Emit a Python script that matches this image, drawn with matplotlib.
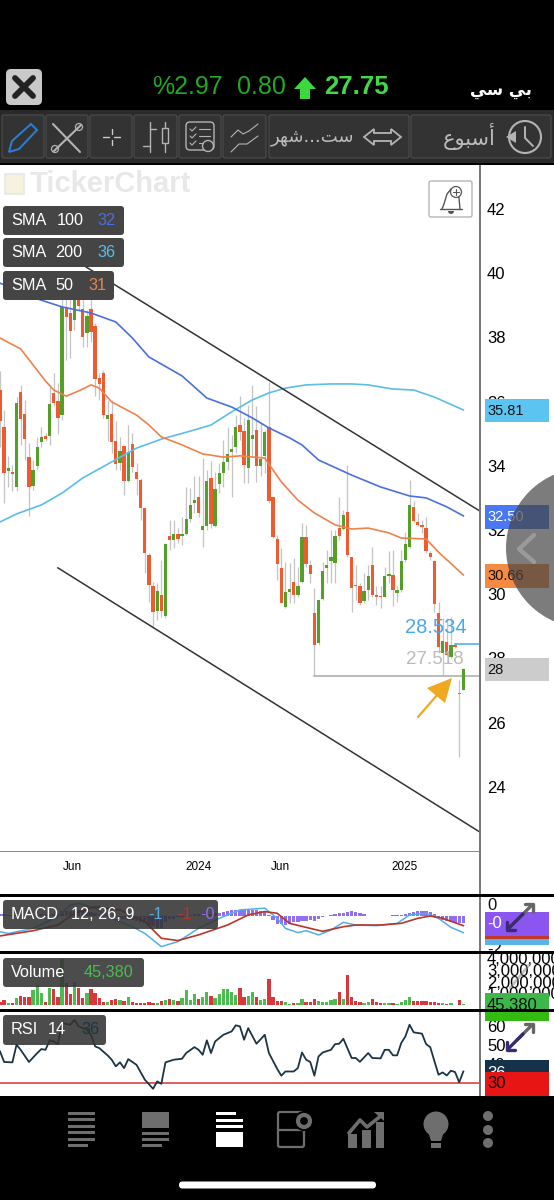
import matplotlib
matplotlib.use("Agg")
import matplotlib.pyplot as plt
from matplotlib.patches import Rectangle, FancyBboxPatch, Circle, Polygon, Wedge

plt.rcParams["font.family"] = ["Liberation Sans", "DejaVu Sans"]

W, H = 554, 1200

# weekly candles, prices
candle_open = [
    36.36, 35.22, 33.84, 33.82, 33.33, 36.31, 35.62, 34.27, 33.37, 33.98,
    34.73, 34.93, 34.94, 36.28, 36.02, 35.59, 38.91, 38.77, 38.55, 39.48,
    38.88, 38.13, 38.88, 38.34, 36.73, 36.88, 35.45, 35.62, 34.78, 34.09,
    34.62, 33.54, 34.68, 33.82, 33.56, 32.67, 31.22, 30.27, 29.48, 29.97,
    29.33, 31.82, 31.68, 31.87, 31.82, 31.89, 32.34, 32.84, 33.02, 32.00,
    32.13, 33.62, 32.13, 33.43, 33.79, 34.13, 34.44, 34.58, 35.27, 35.08,
    33.92, 34.84, 35.12, 33.98, 34.29, 35.22, 33.02, 31.71, 30.83, 29.59,
    30.08, 30.38, 29.96, 30.38, 31.77, 30.92, 29.41, 28.47, 29.84, 30.83,
    31.03, 30.98, 32.06, 32.04, 32.57, 31.17, 30.29, 30.27, 29.78, 30.13,
    30.91, 29.96, 29.94, 29.92, 30.58, 30.61, 30.05, 30.13, 31.07, 31.48,
    32.73, 32.26, 32.15, 32.06, 31.27, 31.03, 29.40, 28.16, 28.51, 28.03,
    28.41, 26.92, 27.02]
candle_close = [
    35.38, 33.79, 33.92, 33.74, 35.97, 35.45, 34.84, 33.35, 33.87, 34.57,
    34.91, 34.84, 35.93, 35.95, 35.48, 38.96, 38.65, 38.20, 39.95, 38.99,
    38.00, 38.67, 38.18, 36.70, 36.54, 35.59, 35.57, 34.73, 34.06, 34.46,
    33.54, 34.42, 33.95, 33.58, 32.68, 31.28, 30.29, 29.46, 30.11, 29.48,
    31.57, 31.68, 31.87, 31.73, 31.88, 32.34, 32.77, 32.92, 32.54, 32.13,
    33.52, 32.19, 33.27, 33.77, 34.12, 34.37, 34.52, 35.22, 35.04, 34.04,
    35.43, 34.97, 33.98, 34.22, 35.04, 32.89, 31.77, 30.93, 29.74, 30.06,
    30.16, 29.96, 30.26, 31.77, 30.93, 30.63, 28.42, 29.82, 30.71, 30.92,
    31.17, 31.82, 31.82, 32.48, 31.22, 30.18, 30.24, 29.74, 30.11, 30.57,
    29.98, 29.92, 29.90, 30.57, 30.63, 30.13, 30.13, 31.03, 31.56, 32.77,
    32.28, 32.14, 32.10, 31.33, 31.17, 29.68, 28.34, 28.55, 28.11, 28.41,
    28.35, 26.88, 27.66]
candle_high = [
    36.94, 35.74, 34.29, 34.03, 36.14, 36.52, 36.05, 34.70, 34.18, 34.91,
    35.22, 35.01, 36.47, 36.90, 36.57, 39.48, 39.48, 39.27, 40.00, 39.69,
    39.27, 38.86, 39.48, 38.44, 36.88, 36.99, 36.05, 36.05, 35.38, 34.91,
    34.65, 35.27, 35.01, 34.08, 33.61, 32.68, 31.28, 30.39, 30.34, 31.07,
    31.59, 32.31, 32.31, 32.06, 32.42, 33.35, 33.30, 33.67, 33.67, 34.24,
    33.87, 34.16, 33.82, 34.08, 34.81, 35.22, 34.96, 35.59, 36.18, 35.48,
    35.90, 36.52, 35.87, 35.33, 35.12, 36.62, 33.04, 31.85, 31.43, 31.01,
    30.96, 31.12, 30.86, 32.21, 32.16, 31.07, 30.18, 29.82, 31.01, 31.38,
    32.00, 32.00, 33.04, 32.63, 34.03, 31.17, 30.91, 30.34, 30.65, 30.91,
    31.48, 30.24, 30.24, 30.86, 31.33, 31.38, 30.24, 31.38, 31.95, 33.56,
    32.91, 32.52, 32.31, 32.42, 31.33, 31.05, 29.77, 29.25, 29.25, 29.30,
    28.47, 27.33, 27.69]
candle_low = [
    34.60, 32.84, 33.35, 33.20, 33.20, 34.65, 34.18, 32.44, 33.25, 33.87,
    34.60, 34.76, 34.65, 35.85, 35.00, 35.43, 37.30, 37.35, 38.23, 38.86,
    37.71, 37.71, 37.87, 36.16, 36.05, 35.50, 34.76, 34.39, 33.87, 33.87,
    33.09, 33.51, 33.82, 33.09, 32.31, 30.65, 29.77, 28.94, 29.20, 29.30,
    29.25, 31.38, 31.43, 31.59, 31.54, 31.85, 32.26, 32.52, 32.42, 31.48,
    32.00, 32.06, 32.09, 33.15, 33.35, 33.87, 33.04, 34.39, 34.81, 33.46,
    33.46, 34.29, 33.51, 33.67, 33.77, 32.84, 31.74, 30.45, 29.72, 29.56,
    29.72, 29.72, 29.92, 30.34, 30.86, 30.34, 27.48, 28.42, 29.82, 30.34,
    30.34, 30.34, 31.69, 32.00, 31.17, 29.43, 29.82, 29.66, 29.72, 29.82,
    29.92, 29.66, 29.56, 29.90, 30.34, 29.64, 29.77, 30.08, 31.01, 31.43,
    32.26, 32.11, 31.90, 31.27, 31.05, 29.46, 28.16, 27.45, 28.06, 28.00,
    28.31, 24.92, 27.00]

# moving averages: (week index, value) read at the bends of each curve
sma100_x = [0, 9, 15, 22, 28, 32, 36, 44, 50, 56, 61, 65, 70, 73, 77, 85, 92, 99, 103, 108, 112]
sma100_y = [39.69, 39.20, 38.95, 38.76, 38.48, 37.98, 37.39, 36.80, 36.11, 35.83, 35.49,
            35.18, 34.87, 34.65, 34.18, 33.71, 33.34, 33.06, 33.00, 32.72, 32.44]
sma50_x = [0, 5, 8, 11, 13, 16, 19, 22, 24, 27, 33, 36, 39, 44, 49, 54, 58, 64, 68, 72,
           76, 81, 85, 89, 94, 97, 103, 106, 112]
sma50_y = [37.98, 37.64, 37.14, 36.64, 36.36, 36.17, 36.33, 36.52, 36.42, 35.99, 35.58,
           35.27, 34.90, 34.65, 34.37, 34.27, 34.31, 34.24, 33.50, 32.93, 32.53, 32.16,
           32.03, 32.06, 31.91, 31.75, 31.72, 31.31, 30.60]
sma200_x = [0, 4, 10, 15, 20, 27, 33, 39, 46, 51, 56, 61, 65, 69, 74, 80, 85, 89, 95, 100, 105, 112]
sma200_y = [32.25, 32.50, 32.78, 33.15, 33.62, 34.12, 34.55, 34.83, 35.08, 35.27, 35.68,
            36.05, 36.27, 36.42, 36.52, 36.55, 36.55, 36.52, 36.39, 36.36, 36.14, 35.74]

# drawn channel
upper_x = [18.85, 116.0]
upper_y = [40.35, 32.59]
lower_x = [14.0, 116.0]
lower_y = [30.82, 22.59]

# high/low markers
high_level = 28.45
low_level = 27.45
high_text = "28.534"
low_text = "27.518"
high_start = 110
low_start = 76

price_ticks = [24, 26, 28, 30, 32, 34, 36, 38, 40, 42]
date_ticks = [17.6, 47.9, 67.9, 97.9]
date_labels = ["Jun", "2024", "Jun", "2025"]

# MACD panel
macd_x = [0, 2, 8, 14, 17, 19, 23, 27, 32, 35, 39, 43, 48, 53, 58, 64, 67, 69, 72, 74, 77,
          80, 83, 86, 91, 96, 99, 103, 106, 109, 112]
macd_y = [-0.75, -0.83, -0.59, -0.03, 0.52, 0.60, 0.37, -0.11, -0.51, -0.83, -1.46, -1.22,
          -0.59, -0.11, 0.29, 0.37, -0.11, -0.59, -0.79, -0.70, -0.90, -0.67, -0.30, -0.43,
          -0.46, -0.35, 0.05, 0.13, -0.11, -0.54, -0.79]
signal_x = [0, 8, 14, 18, 23, 29, 35, 39, 43, 48, 55, 60, 64, 67, 70, 75, 78, 83, 86, 92, 97,
            101, 104, 107, 112]
signal_y = [-0.95, -0.70, -0.43, 0.13, 0.44, 0.29, -0.27, -1.06, -1.17, -0.90, -0.43, 0.05,
            0.21, 0.13, -0.35, -0.59, -0.73, -0.51, -0.43, -0.43, -0.35, -0.11, 0.00, -0.11, -0.46]
macd_hist = [
    0.08, 0.08, 0.07, 0.05, 0.03, 0.02, 0.03, 0.02, 0.03, 0.05,
    0.08, 0.08, 0.05, 0.08, 0.10, 0.22, 0.25, 0.25, 0.25, 0.28,
    0.28, 0.22, 0.20, 0.16, 0.10, 0.06, 0.02, -0.02, -0.06, -0.10,
    -0.15, -0.20, -0.20, -0.25, -0.30, -0.35, -0.42, -0.48, -0.55, -0.58,
    -0.30, -0.15, -0.12, -0.05, -0.05, 0.00, 0.05, 0.08, 0.10, 0.10,
    0.12, 0.10, 0.12, 0.15, 0.20, 0.25, 0.28, 0.30, 0.30, 0.32,
    0.32, 0.30, 0.28, 0.25, 0.20, 0.05, -0.20, -0.38, -0.38, -0.42,
    -0.40, -0.30, -0.28, -0.25, -0.25, -0.20, -0.22, -0.15, -0.05, 0.00,
    0.03, 0.08, 0.12, 0.16, 0.20, 0.22, 0.18, 0.15, 0.08, 0.02,
    0.02, 0.01, 0.01, 0.00, 0.02, 0.03, 0.05, 0.05, 0.08, 0.12,
    0.20, 0.25, 0.25, 0.25, 0.20, 0.10, -0.10, -0.20, -0.25, -0.30,
    -0.32, -0.35, -0.35]

# volume, millions of shares
volume = [
    0.28, 0.43, 0.20, 0.20, 0.57, 0.77, 0.66, 0.71, 1.28, 1.71,
    1.00, 0.28, 1.42, 1.34, 0.71, 3.90, 1.85, 0.94, 1.99, 1.42,
    0.57, 1.00, 1.34, 1.05, 0.57, 0.28, 0.28, 0.43, 0.48, 0.43,
    0.37, 0.71, 0.28, 0.14, 0.20, 0.20, 0.28, 0.20, 0.20, 0.34,
    0.43, 0.48, 0.43, 0.34, 0.57, 1.28, 0.43, 0.91, 0.48, 0.71,
    1.14, 0.77, 0.57, 0.94, 1.37, 1.37, 1.14, 0.85, 1.42, 0.66,
    0.77, 1.08, 0.66, 0.43, 0.51, 2.19, 0.66, 0.34, 0.34, 0.28,
    0.09, 0.20, 0.20, 0.48, 0.23, 0.28, 0.48, 0.34, 0.28, 0.23,
    0.43, 0.48, 1.11, 0.51, 2.54, 0.66, 0.37, 0.23, 0.17, 0.23,
    0.48, 0.23, 0.20, 0.20, 0.20, 0.20, 0.09, 0.28, 0.43, 0.71,
    0.34, 0.34, 0.34, 0.37, 0.23, 0.23, 0.20, 0.17, 0.11, 0.20,
    0.03, 0.43, 0.045]
volume_ticks = [1, 2, 3, 4]
volume_labels = ["1,000,000", "2,000,000", "3,000,000", "4,000,000"]

# RSI
rsi_x = [0, 1, 3, 4, 5, 7, 9, 10, 11, 12, 13, 14, 15, 17, 18, 19, 21, 22, 23, 24, 26, 27, 28,
         29, 30, 31, 33, 35, 37, 38, 39, 40, 42, 44, 45, 47, 48, 49, 50, 51, 52, 54, 56, 57,
         58, 59, 60, 62, 64, 65, 67, 68, 69, 71, 72, 73, 74, 75, 76, 77, 78, 80, 81, 82, 83,
         85, 86, 87, 89, 90, 92, 93, 94, 95, 96, 97, 98, 99, 100, 102, 103, 104, 106, 107,
         108, 109, 110, 111, 112]
rsi_y = [46.7, 41.1, 40.9, 50.2, 47.5, 41.1, 45.8, 47.9, 47.5, 52.5, 51.9, 50.5, 61.6, 60.7,
         63.3, 59.8, 58.1, 55.4, 49.3, 48.4, 44.6, 42.3, 38.8, 40.9, 37.9, 42.6, 39.6, 31.8,
         27.0, 30.9, 29.6, 40.9, 42.3, 42.8, 45.8, 48.9, 47.5, 44.9, 52.5, 45.8, 51.9, 55.4,
         57.2, 60.4, 59.8, 52.8, 58.9, 50.7, 55.4, 45.8, 37.5, 33.9, 36.1, 36.1, 37.9, 46.1,
         42.3, 41.1, 33.9, 44.0, 46.1, 47.5, 50.5, 50.7, 53.3, 43.2, 43.2, 41.2, 45.8, 43.2,
         43.0, 47.5, 47.5, 44.6, 44.6, 51.1, 54.6, 60.7, 56.7, 56.0, 50.5, 48.9, 34.4, 35.6,
         34.0, 36.5, 35.8, 30.4, 36.1]
rsi_ticks = [40, 50, 60]
rsi_level = 30

RED = "#f05a30"
GREEN = "#559e28"
WICK = "#c4c4c4"
C_SMA100 = "#4a6fe0"
C_SMA200 = "#5bbde8"
C_SMA50 = "#f0814a"
PRICE_BLUE = "#4aa8e8"
BAR_GREY = "#6e6e6e"
ICON = "#b4b4b4"

fig = plt.figure(figsize=(W / 100, H / 100), dpi=100, facecolor="white")


def axes_px(x0, y0, x1, y1):
    """Axes from pixel box, y measured from the top of the image."""
    return fig.add_axes([x0 / W, 1 - y1 / H, (x1 - x0) / W, (y1 - y0) / H])


def setup_panel(ax, ymin, ymax):
    ax.set_xlim(0, 116.03)
    ax.set_ylim(ymin, ymax)
    for side in ax.spines.values():
        side.set_visible(False)
    ax.yaxis.tick_right()
    ax.tick_params(axis="y", length=0, pad=5, labelsize=12)
    ax.tick_params(axis="x", length=0)
    ax.set_xticks([])


weeks = list(range(len(candle_close)))
candle_up = [c >= o for o, c in zip(candle_open, candle_close)]

# price panel
ax = axes_px(0, 165, 480, 851)
setup_panel(ax, 22.0, 43.37)
ax.set_yticks(price_ticks)
ax.set_xticks(date_ticks)
ax.set_xticklabels(date_labels, fontsize=8.5)
ax.tick_params(axis="x", pad=7)
ax.vlines(weeks, candle_low, candle_high, color=WICK, linewidth=0.9, zorder=2)
ax.bar(weeks, [abs(c - o) for o, c in zip(candle_open, candle_close)],
       bottom=[min(o, c) for o, c in zip(candle_open, candle_close)], width=0.8,
       color=[GREEN if up else RED for up in candle_up], linewidth=0, zorder=3)
ax.plot(sma200_x, sma200_y, color=C_SMA200, linewidth=1.2, zorder=4)
ax.plot(sma100_x, sma100_y, color=C_SMA100, linewidth=1.2, zorder=4)
ax.plot(sma50_x, sma50_y, color=C_SMA50, linewidth=1.2, zorder=4)
ax.plot(upper_x, upper_y, color="#333333", linewidth=1.1, zorder=5)
ax.plot(lower_x, lower_y, color="#333333", linewidth=1.1, zorder=5)
ax.plot([high_start, 116.03], [high_level, high_level], color=PRICE_BLUE, linewidth=1.1, zorder=5)
ax.plot([low_start, 116.03], [low_level, low_level], color="#aaaaaa", linewidth=1.1, zorder=2)
ax.text(112.9, 28.95, high_text, color=PRICE_BLUE, fontsize=14.5, ha="right", va="center", zorder=6)
ax.text(112.0, 27.95, low_text, color="#bbbbbb", fontsize=13.5, ha="right", va="center", zorder=6)

# MACD panel
ax_macd = axes_px(0, 897, 480, 951)
setup_panel(ax_macd, -1.667, 0.905)
ax_macd.set_yticks([])
ax_macd.bar(weeks, macd_hist, width=0.8, color="#8f70f0", linewidth=0, zorder=2)
ax_macd.plot(macd_x, macd_y, color="#4fb0e8", linewidth=1.1, zorder=3)
ax_macd.plot(signal_x, signal_y, color="#b8352a", linewidth=1.2, zorder=4)

# volume panel
ax_vol = axes_px(0, 953.5, 480, 1009)
setup_panel(ax_vol, -0.34, 4.40)
ax_vol.set_yticks(volume_ticks)
ax_vol.set_yticklabels(volume_labels)
ax_vol.bar(weeks, volume, width=0.8, linewidth=0,
           color=["#4cbb50" if up else "#d8373c" for up in candle_up])

# RSI panel
ax_rsi = axes_px(0, 1012, 480, 1096)
setup_panel(ax_rsi, 23.2, 67.4)
ax_rsi.set_yticks(rsi_ticks)
ax_rsi.axhline(rsi_level, color="#dd3030", linewidth=1.1)
ax_rsi.plot(rsi_x, rsi_y, color="#1c3444", linewidth=1.3)

# overlay in image pixels for the app chrome
ui = fig.add_axes([0, 0, 1, 1])
ui.set_xlim(0, W)
ui.set_ylim(H, 0)
ui.axis("off")
ui.patch.set_alpha(0)


def box(x0, y0, x1, y1, color, z=2, alpha=None):
    ui.add_patch(Rectangle((x0, y0), x1 - x0, y1 - y0, facecolor=color, edgecolor="none", zorder=z, alpha=alpha))


def rbox(x0, y0, x1, y1, color, edge="none", r=3, z=3, alpha=None, lw=1):
    ui.add_patch(FancyBboxPatch((x0, y0), x1 - x0, y1 - y0, boxstyle=f"round,pad=0,rounding_size={r}",
                                facecolor=color, edgecolor=edge, linewidth=lw, zorder=z, alpha=alpha))


def stroke(xs, ys, color=ICON, lw=1.0, z=5, alpha=None):
    ui.plot(xs, ys, color=color, linewidth=lw, zorder=z, alpha=alpha, solid_capstyle="round")


def label(x, y, s, color="white", size=12, z=6, **kw):
    kw.setdefault("ha", "left")
    kw.setdefault("va", "center")
    ui.text(x, y, s, color=color, fontsize=size, zorder=z, **kw)


def ring(x, y, r, color=ICON, lw=1.0, z=5):
    ui.add_patch(Circle((x, y), r, facecolor="none", edgecolor=color, linewidth=lw, zorder=z))


# top bar
box(0, 0, W, 110, "black")
box(0, 110, W, 165, "#2a2a2a")
box(0, 163, W, 165, "black")
rbox(6, 69, 42, 105, "#c9c9c9", r=5)
stroke([15, 33], [78, 96], "#222222", 4.2)
stroke([33, 15], [78, 96], "#222222", 4.2)
label(152, 87, "%2.97", "#22a822", 18)
label(237, 87, "0.80", "#22a822", 18)
ui.add_patch(Polygon([[305, 77], [316, 89], [310, 89], [310, 99], [300, 99], [300, 89], [294, 89]],
                     facecolor="#3ed83e", edgecolor="none", zorder=5))
label(324, 87, "27.75", "#44d844", 18.5, fontweight="bold")
label(532, 90, "\ufef2\ufeb3 \ufef2\ufe91", "white", 12, ha="right", family=["DejaVu Sans"], fontweight="bold")

# toolbar buttons
for x0, x1 in [(2, 44), (46, 88), (90, 132), (134, 177), (179, 221), (223, 266), (269, 409), (411, 551)]:
    rbox(x0, 115, x1, 158, "#333333", "#484848", r=2)

# pencil
ui.add_patch(Polygon([[9, 152], [12, 141], [31, 124], [37, 130], [19, 149]], facecolor="none",
                     edgecolor="#2a80d8", linewidth=1.4, zorder=5))
# tools
stroke([53, 80], [124, 152], ICON, 1.5)
stroke([81, 54], [125, 151], ICON, 1.5)
ring(79, 127, 3.5, ICON, 0.9)
ring(55, 149, 3.5, ICON, 0.9)
# crosshair
stroke([103, 109], [137, 137], "#cccccc", 1.0)
stroke([114, 120], [137, 137], "#cccccc", 1.0)
stroke([111.5, 111.5], [129, 134], "#cccccc", 1.0)
stroke([111.5, 111.5], [140, 145], "#cccccc", 1.0)
# candle pictogram
stroke([150, 150], [122, 152], ICON, 1.0)
stroke([150, 156], [129, 129], ICON, 1.0)
stroke([143, 150], [146, 146], ICON, 1.0)
stroke([165, 165], [122, 152], ICON, 1.0)
ui.add_patch(Rectangle((162, 128), 6, 15, facecolor="#333333", edgecolor=ICON, linewidth=1.0, zorder=6))
# checklist
rbox(186, 122, 214, 150, "none", ICON, r=4, z=5)
for row in [129, 136, 143]:
    stroke([190, 192, 196], [row, row + 2, row - 2], ICON, 0.8)
    stroke([199, 210], [row, row], ICON, 0.8)
ui.add_patch(Circle((208, 146), 5.5, facecolor="#333333", edgecolor=ICON, linewidth=1.0, zorder=6))
# line chart
stroke([231, 238, 243, 249, 258], [137, 130, 134, 131, 124], ICON, 0.8)
stroke([231, 239, 247, 258], [152, 144, 144, 136], ICON, 0.8)
# period arrows and text
label(271, 137, "\ufeae\ufeec\ufeb7...\ufe96\ufeb3", "#bbbbbb", 13, family=["DejaVu Sans"])
ui.add_patch(Polygon([[364, 137], [374, 129], [374, 133], [391, 133], [391, 129], [401, 137], [391, 145],
                      [391, 141], [374, 141], [374, 145]], facecolor="none", edgecolor=ICON,
                     linewidth=1.3, zorder=5))
# clock
label(496, 137, "\ufec9\ufeee\ufe92\ufeb3\ufe83", "#bbbbbb", 15, ha="right", family=["DejaVu Sans"])
ring(525, 137, 16, ICON, 1.5)
stroke([525, 525, 533], [127, 138, 146], ICON, 1.4)
ui.add_patch(Polygon([[506, 137], [516, 131], [516, 143]], facecolor=ICON, edgecolor="none", zorder=6))

# watermark
ui.add_patch(Rectangle((5, 174), 19, 20, facecolor="#f7f1e0", edgecolor="#e8e8e8", linewidth=1.2, zorder=2))
label(30, 184, "TickerChart", "#e8e8e8", 21, z=2, fontweight="bold")

# bell
rbox(429, 181, 472, 217, "white", "#b5b5b5", r=2, z=3)
stroke([442, 444, 447, 451, 455, 459, 460], [209, 204, 194, 189, 190, 198, 209], "#555555", 1.0)
stroke([440, 462], [209, 209], "#555555", 1.0)
ui.add_patch(Wedge((451, 211), 3, 0, 180, facecolor="#555555", zorder=5))
ui.add_patch(Circle((456, 192), 5.5, facecolor="white", edgecolor="#555555", linewidth=0.9, zorder=6))
stroke([453, 459], [192, 192], "#555555", 0.8, z=7)
stroke([456, 456], [189, 195], "#555555", 0.8, z=7)

# indicator legends
legend_rows = [
    (206, 235, 124, "100", 56.5, "32", 97, C_SMA100),
    (238, 267, 124, "200", 55.5, "36", 97, C_SMA200),
    (271, 300, 114, "50", 55.5, "31", 88, C_SMA50),
]
for y0, y1, x1, period, period_x, val, val_x, col in legend_rows:
    rbox(3, y0, x1, y1, "#454545", r=3)
    ym = (y0 + y1) / 2
    label(11, ym, "SMA", size=11.7)
    label(period_x, ym, period, size=11.7)
    label(val_x, ym, val, col, 11.7)

rbox(3, 900, 218, 929, "#333333", r=3, alpha=0.88)
label(11, 914.5, "MACD", size=11.7)
label(71, 914.5, "12, 26, 9", size=11.7)
label(148, 914.5, "-1", "#4fb0e8", 11.7)
label(177, 914.5, "-1", "#b8352a", 11.7)
label(200, 914.5, "-0", "#8f70f0", 11.7)

rbox(3, 958, 144, 987, "#333333", r=3, alpha=0.88)
label(11, 972.5, "Volume", size=11.7)
label(84, 972.5, "45,380", "#4cbb50", 11.7)

rbox(3, 1015, 106, 1045, "#333333", r=3, alpha=0.88)
label(11, 1030, "RSI", size=11.7)
label(48, 1030, "14", size=11.7)
label(81, 1030, "36", "#1c3444", 11.7)

# price tags on the right
box(485, 399, 549, 422, "#5cc4f0")
label(487, 411, "35.81", "#111111", 10.5)
box(485, 505, 549, 529, "#4a78f0")
label(487, 517, "32.50", "white", 10.5)
box(485, 564, 549, 588, "#f58a42")
label(487, 576, "30.66", "#111111", 10.5)
box(485, 658, 549, 681, "#cccccc")
label(487, 670, "28", "#111111", 10.5)

# grey slide-out handle
ui.add_patch(Circle((586, 548), 80, facecolor="#444444", edgecolor="none", alpha=0.7, zorder=7))
stroke([534, 519, 534], [535, 549, 562], "#9a9a9a", 3.2, z=8)

# arrow on the chart
stroke([418, 438], [717, 694], "#f0a820", 1.6)
ui.add_patch(Polygon([[452, 678], [427, 688], [445, 703]], facecolor="#f0a820", edgecolor="none", zorder=5))

# MACD axis
label(487, 905, "0", "#111111", 12, z=2)
label(487, 949, "-2", "#111111", 12, z=2)
box(485, 912, 549, 936, "#8a55f0", z=3)
box(485, 936, 549, 939, "#c0392b", z=3)
box(485, 939, 549, 945, "#5ab4e8", z=3)
label(487, 923, "-0", "white", 12)

# volume tag
box(485, 993, 549, 1010, "#3cb84a", z=3)
box(485, 1010, 549, 1021, "#33bb11", z=3)
label(487, 1005, "45,380", "#111111", 12)

# RSI tags
box(485, 1060, 549, 1073, "#15324a", z=3)
label(487, 1073, "36", "white", 12, z=3)
box(485, 1072, 549, 1096, "#e81515", z=4)
label(487, 1084, "30", "#111111", 12)


def resize_icon(cx, cy, alpha=1.0):
    """Diagonal drag handle on the indicator axes."""
    stroke([cx - 3, cx + 12], [cy + 3, cy - 12], "#666666", 2.4, z=7, alpha=alpha)
    stroke([cx + 5, cx + 13, cx + 13], [cy - 13, cy - 13, cy - 5], "#666666", 2.4, z=7, alpha=alpha)
    stroke([cx - 12, cx + 3], [cy + 12, cy - 3], "#3a2a70", 2.4, z=7, alpha=alpha)
    stroke([cx - 13, cx - 13, cx - 5], [cy + 5, cy + 13, cy + 13], "#3a2a70", 2.4, z=7, alpha=alpha)


resize_icon(520, 917)
resize_icon(520, 1037)
stroke([510, 530], [988, 964], "#888888", 2.0, z=7, alpha=0.5)

# panel separators and frame
box(0, 851, 480, 852, "#8a8a8a", z=2)
box(479.2, 165, 481, 1097, "#777777", z=2)
for y in [895, 952, 1010.5]:
    box(0, y - 1.5, W, y + 1.5, "black", z=9)
box(0, 1096, W, H, "black", z=9)

# bottom bar icons
for y in [1113, 1119.5, 1126, 1132.5, 1139]:
    box(68, y - 1.5, 95, y + 1.5, BAR_GREY, z=10)
box(68, 1144, 88, 1147, BAR_GREY, z=10)

box(142, 1112, 169, 1128, BAR_GREY, z=10)
for y, xr in [(1133, 169), (1139, 169), (1145, 162)]:
    box(142, y - 1.5, xr, y + 1.5, BAR_GREY, z=10)

box(216, 1112, 236, 1115, "white", z=10)
box(216, 1119, 243, 1122, "white", z=10)
box(216, 1125, 243, 1128, "white", z=10)
box(216, 1132, 243, 1147, "white", z=10)

ui.add_patch(FancyBboxPatch((278, 1112), 26, 35, boxstyle="round,pad=0,rounding_size=2", facecolor="none",
                            edgecolor=BAR_GREY, linewidth=1.6, zorder=10))
stroke([278, 304], [1130, 1130], BAR_GREY, 1.6, z=10)
ui.add_patch(Circle((304, 1121), 10, facecolor="black", edgecolor="none", zorder=11))
ui.add_patch(Circle((304, 1121), 6, facecolor="none", edgecolor=BAR_GREY, linewidth=3, zorder=12))

for x0, x1, top in [(348, 357, 1134), (362, 371, 1130), (376, 384, 1122)]:
    box(x0, top, x1, 1148, BAR_GREY, z=10)
stroke([349, 360, 367, 382], [1133, 1120, 1127, 1115], BAR_GREY, 2.6, z=11)
ui.add_patch(Polygon([[384, 1112], [384, 1121], [374, 1112]], facecolor=BAR_GREY, edgecolor="none", zorder=11))

ui.add_patch(Circle((436, 1124), 12.5, facecolor=BAR_GREY, edgecolor="none", zorder=10))
ui.add_patch(Polygon([[428, 1131], [444, 1131], [441, 1141], [431, 1141]], facecolor=BAR_GREY,
                     edgecolor="none", zorder=10))
box(431, 1143, 441, 1148, BAR_GREY, z=10)

for y in [1116, 1130, 1143]:
    ui.add_patch(Circle((488, y), 5, facecolor=BAR_GREY, edgecolor="none", zorder=10))

rbox(179, 1181.5, 376, 1188.5, "white", r=3.5, z=10)

fig.savefig("out.png", dpi=100, facecolor="white")
